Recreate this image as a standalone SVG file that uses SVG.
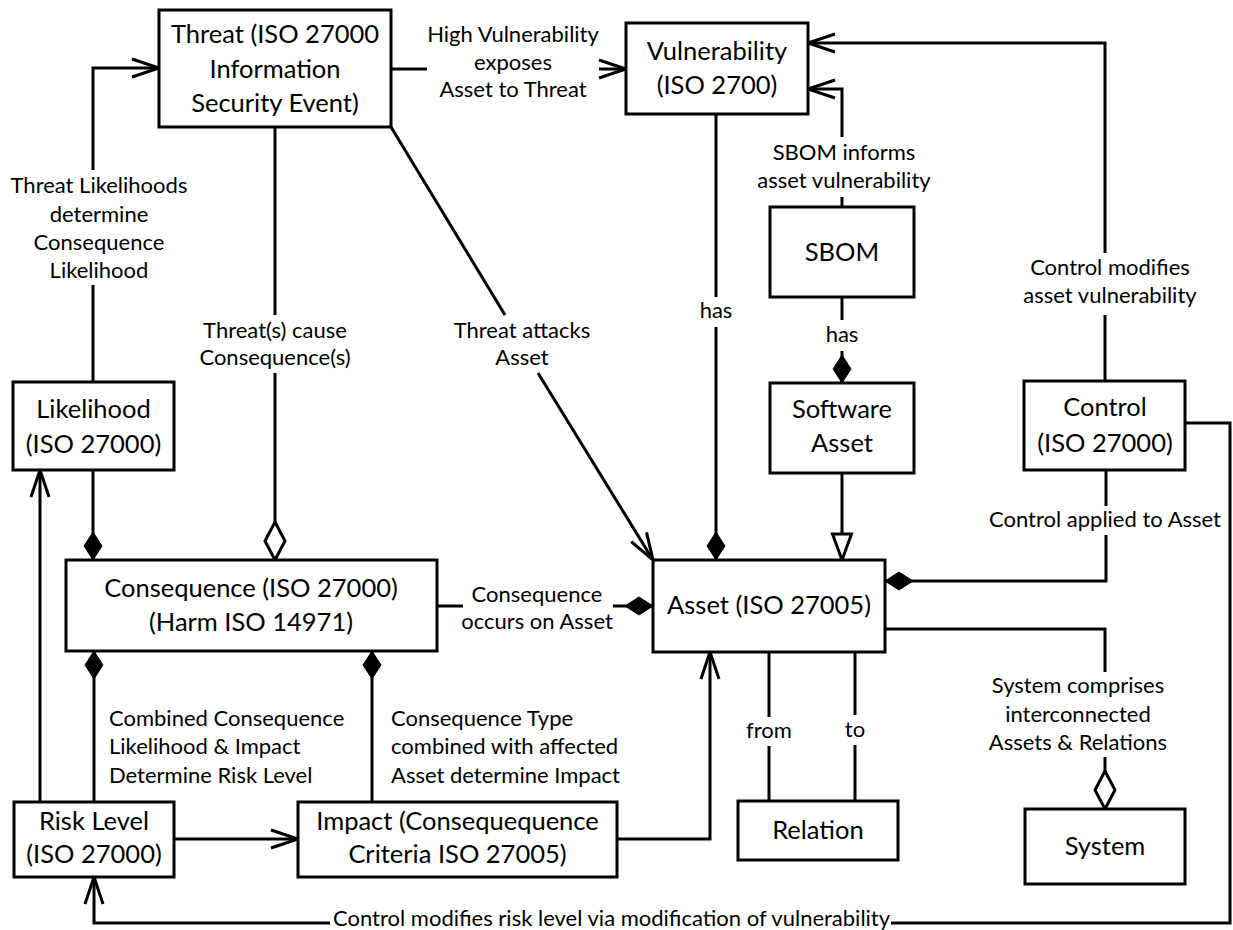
<svg xmlns="http://www.w3.org/2000/svg" width="1233" height="930" viewBox="0 0 1233 930">
<style>
.box{fill:#fff;stroke:#000;stroke-width:3}
.n{font-family:Lato,"Liberation Sans",sans-serif;font-size:25.5px;fill:#000;text-anchor:middle}
.l{font-family:Lato,"Liberation Sans",sans-serif;font-size:22px;fill:#000;text-anchor:middle}
.ls{font-family:Lato,"Liberation Sans",sans-serif;font-size:22px;fill:#000;text-anchor:start}
.c{fill:none;stroke:#000;stroke-width:3}
</style>
<defs>
<marker id="open" markerUnits="userSpaceOnUse" viewBox="-32 -14 36 28" refX="0" refY="0" markerWidth="36" markerHeight="28" orient="auto" overflow="visible">
<path d="M-27,-9 L0,0 L-27,9" fill="none" stroke="#000" stroke-width="3"/>
</marker>
<marker id="fd" markerUnits="userSpaceOnUse" viewBox="-32 -14 36 28" refX="0" refY="0" markerWidth="36" markerHeight="28" orient="auto" overflow="visible">
<path d="M0,0 L-14,-9 L-28,0 L-14,9 Z" fill="#000" stroke="#000" stroke-width="1"/>
</marker>
<marker id="hd" markerUnits="userSpaceOnUse" viewBox="-40 -14 44 28" refX="0" refY="0" markerWidth="44" markerHeight="28" orient="auto" overflow="visible">
<path d="M0,0 L-19,-10 L-38,0 L-19,10 Z" fill="#fff" stroke="#000" stroke-width="3"/>
</marker>
<marker id="tri" markerUnits="userSpaceOnUse" viewBox="-32 -14 36 28" refX="0" refY="0" markerWidth="36" markerHeight="28" orient="auto" overflow="visible">
<path d="M0,0 L-26,-9.5 L-26,9.5 Z" fill="#fff" stroke="#000" stroke-width="3"/>
</marker>
</defs>

<g id="connectors">
<path class="c" d="M93,382 V285"/>
<path class="c" d="M93,170 V68 H159" marker-end="url(#open)"/>
<path class="c" d="M391,69 H427"/>
<path class="c" d="M599,69 H626" marker-end="url(#open)"/>
<path class="c" d="M275,127 V315"/>
<path class="c" d="M275,373 V560" marker-end="url(#hd)"/>
<path class="c" d="M391,127 L505,315"/>
<path class="c" d="M538,373 L653,560" marker-end="url(#open)"/>
<path class="c" d="M716,114 V297"/>
<path class="c" d="M716,327 V560" marker-end="url(#fd)"/>
<path class="c" d="M842,207 V197"/>
<path class="c" d="M842,137 V89 H808" marker-end="url(#open)"/>
<path class="c" d="M842,297 V320"/>
<path class="c" d="M842,351 V383" marker-end="url(#fd)"/>
<path class="c" d="M842,473 V560" marker-end="url(#tri)"/>
<path class="c" d="M1105,381 V315"/>
<path class="c" d="M1105,253 V43 H808" marker-end="url(#open)"/>
<path class="c" d="M1106,470 V506"/>
<path class="c" d="M1106,535 V581 H885" marker-end="url(#fd)"/>
<path class="c" d="M885,629 H1105 V672"/>
<path class="c" d="M1105,757 V809" marker-end="url(#hd)"/>
<path class="c" d="M769,652 V717"/>
<path class="c" d="M769,746 V801"/>
<path class="c" d="M855,652 V715"/>
<path class="c" d="M855,745 V801"/>
<path class="c" d="M437,606 H463"/>
<path class="c" d="M613,606 H653" marker-end="url(#fd)"/>
<path class="c" d="M93,470 V560" marker-end="url(#fd)"/>
<path class="c" d="M40,802 V470" marker-end="url(#open)"/>
<path class="c" d="M94,802 V651" marker-end="url(#fd)"/>
<path class="c" d="M372,802 V651" marker-end="url(#fd)"/>
<path class="c" d="M174,839 H298" marker-end="url(#open)"/>
<path class="c" d="M617,839 H710 V652" marker-end="url(#open)"/>
<path class="c" d="M1185,423 H1230 V923 H891"/>
<path class="c" d="M330,923 H94 V877" marker-end="url(#open)"/>

<text class="l" x="99" y="193">Threat Likelihoods</text>
<text class="l" x="99" y="222">determine</text>
<text class="l" x="99" y="250">Consequence</text>
<text class="l" x="99" y="278">Likelihood</text>
<text class="l" x="513" y="42">High Vulnerability</text>
<text class="l" x="513" y="70">exposes</text>
<text class="l" x="513" y="97">Asset to Threat</text>
<text class="l" x="844" y="160">SBOM informs</text>
<text class="l" x="844" y="188">asset vulnerability</text>
<text class="l" x="716" y="318">has</text>
<text class="l" x="842" y="342">has</text>
<text class="l" x="1110" y="275">Control modifies</text>
<text class="l" x="1110" y="303">asset vulnerability</text>
<text class="l" x="275" y="338">Threat(s) cause</text>
<text class="l" x="275" y="365">Consequence(s)</text>
<text class="l" x="522" y="338">Threat attacks</text>
<text class="l" x="522" y="365">Asset</text>
<text class="l" x="1105" y="527">Control applied to Asset</text>
<text class="l" x="537" y="602">Consequence</text>
<text class="l" x="537" y="629">occurs on Asset</text>
<text class="ls" x="109" y="726">Combined Consequence</text>
<text class="ls" x="109" y="754">Likelihood &amp; Impact</text>
<text class="ls" x="109" y="783">Determine Risk Level</text>
<text class="ls" x="391" y="726">Consequence Type</text>
<text class="ls" x="391" y="754">combined with affected</text>
<text class="ls" x="391" y="783">Asset determine Impact</text>
<text class="l" x="769" y="738">from</text>
<text class="l" x="855" y="737">to</text>
<text class="l" x="1078" y="693">System comprises</text>
<text class="l" x="1078" y="722">interconnected</text>
<text class="l" x="1078" y="750">Assets &amp; Relations</text>
<text class="ls" x="333" y="926">Control modifies risk level via modification of vulnerability</text>
</g>

<g id="threat">
<rect class="box" x="159" y="10" width="232" height="117"/>
<text class="n" x="275" y="43">Threat (ISO 27000</text>
<text class="n" x="275" y="78">Information</text>
<text class="n" x="275" y="112">Security Event)</text>
</g>
<g id="vulnerability">
<rect class="box" x="626" y="23" width="182" height="91"/>
<text class="n" x="717" y="60">Vulnerability</text>
<text class="n" x="717" y="94">(ISO 2700)</text>
</g>
<g id="sbom">
<rect class="box" x="770" y="207" width="144" height="90"/>
<text class="n" x="842" y="261">SBOM</text>
</g>
<g id="software-asset">
<rect class="box" x="770" y="383" width="144" height="90"/>
<text class="n" x="842" y="418">Software</text>
<text class="n" x="842" y="452">Asset</text>
</g>
<g id="likelihood">
<rect class="box" x="13" y="382" width="161" height="88"/>
<text class="n" x="93.5" y="418">Likelihood</text>
<text class="n" x="93.5" y="453">(ISO 27000)</text>
</g>
<g id="control">
<rect class="box" x="1024" y="381" width="161" height="89"/>
<text class="n" x="1105" y="416">Control</text>
<text class="n" x="1105" y="452">(ISO 27000)</text>
</g>
<g id="consequence">
<rect class="box" x="66" y="560" width="371" height="91"/>
<text class="n" x="251" y="597">Consequence (ISO 27000)</text>
<text class="n" x="251" y="631">(Harm ISO 14971)</text>
</g>
<g id="asset">
<rect class="box" x="653" y="560" width="232" height="92"/>
<text class="n" x="769" y="614">Asset (ISO 27005)</text>
</g>
<g id="risk-level">
<rect class="box" x="14" y="802" width="160" height="75"/>
<text class="n" x="94" y="830">Risk Level</text>
<text class="n" x="94" y="863">(ISO 27000)</text>
</g>
<g id="impact">
<rect class="box" x="298" y="802" width="319" height="75"/>
<text class="n" x="457.5" y="830">Impact (Consequequence</text>
<text class="n" x="457.5" y="863">Criteria ISO 27005)</text>
</g>
<g id="relation">
<rect class="box" x="738" y="801" width="160" height="59"/>
<text class="n" x="818" y="839">Relation</text>
</g>
<g id="system">
<rect class="box" x="1025" y="809" width="160" height="75"/>
<text class="n" x="1105" y="855">System</text>
</g>
</svg>
